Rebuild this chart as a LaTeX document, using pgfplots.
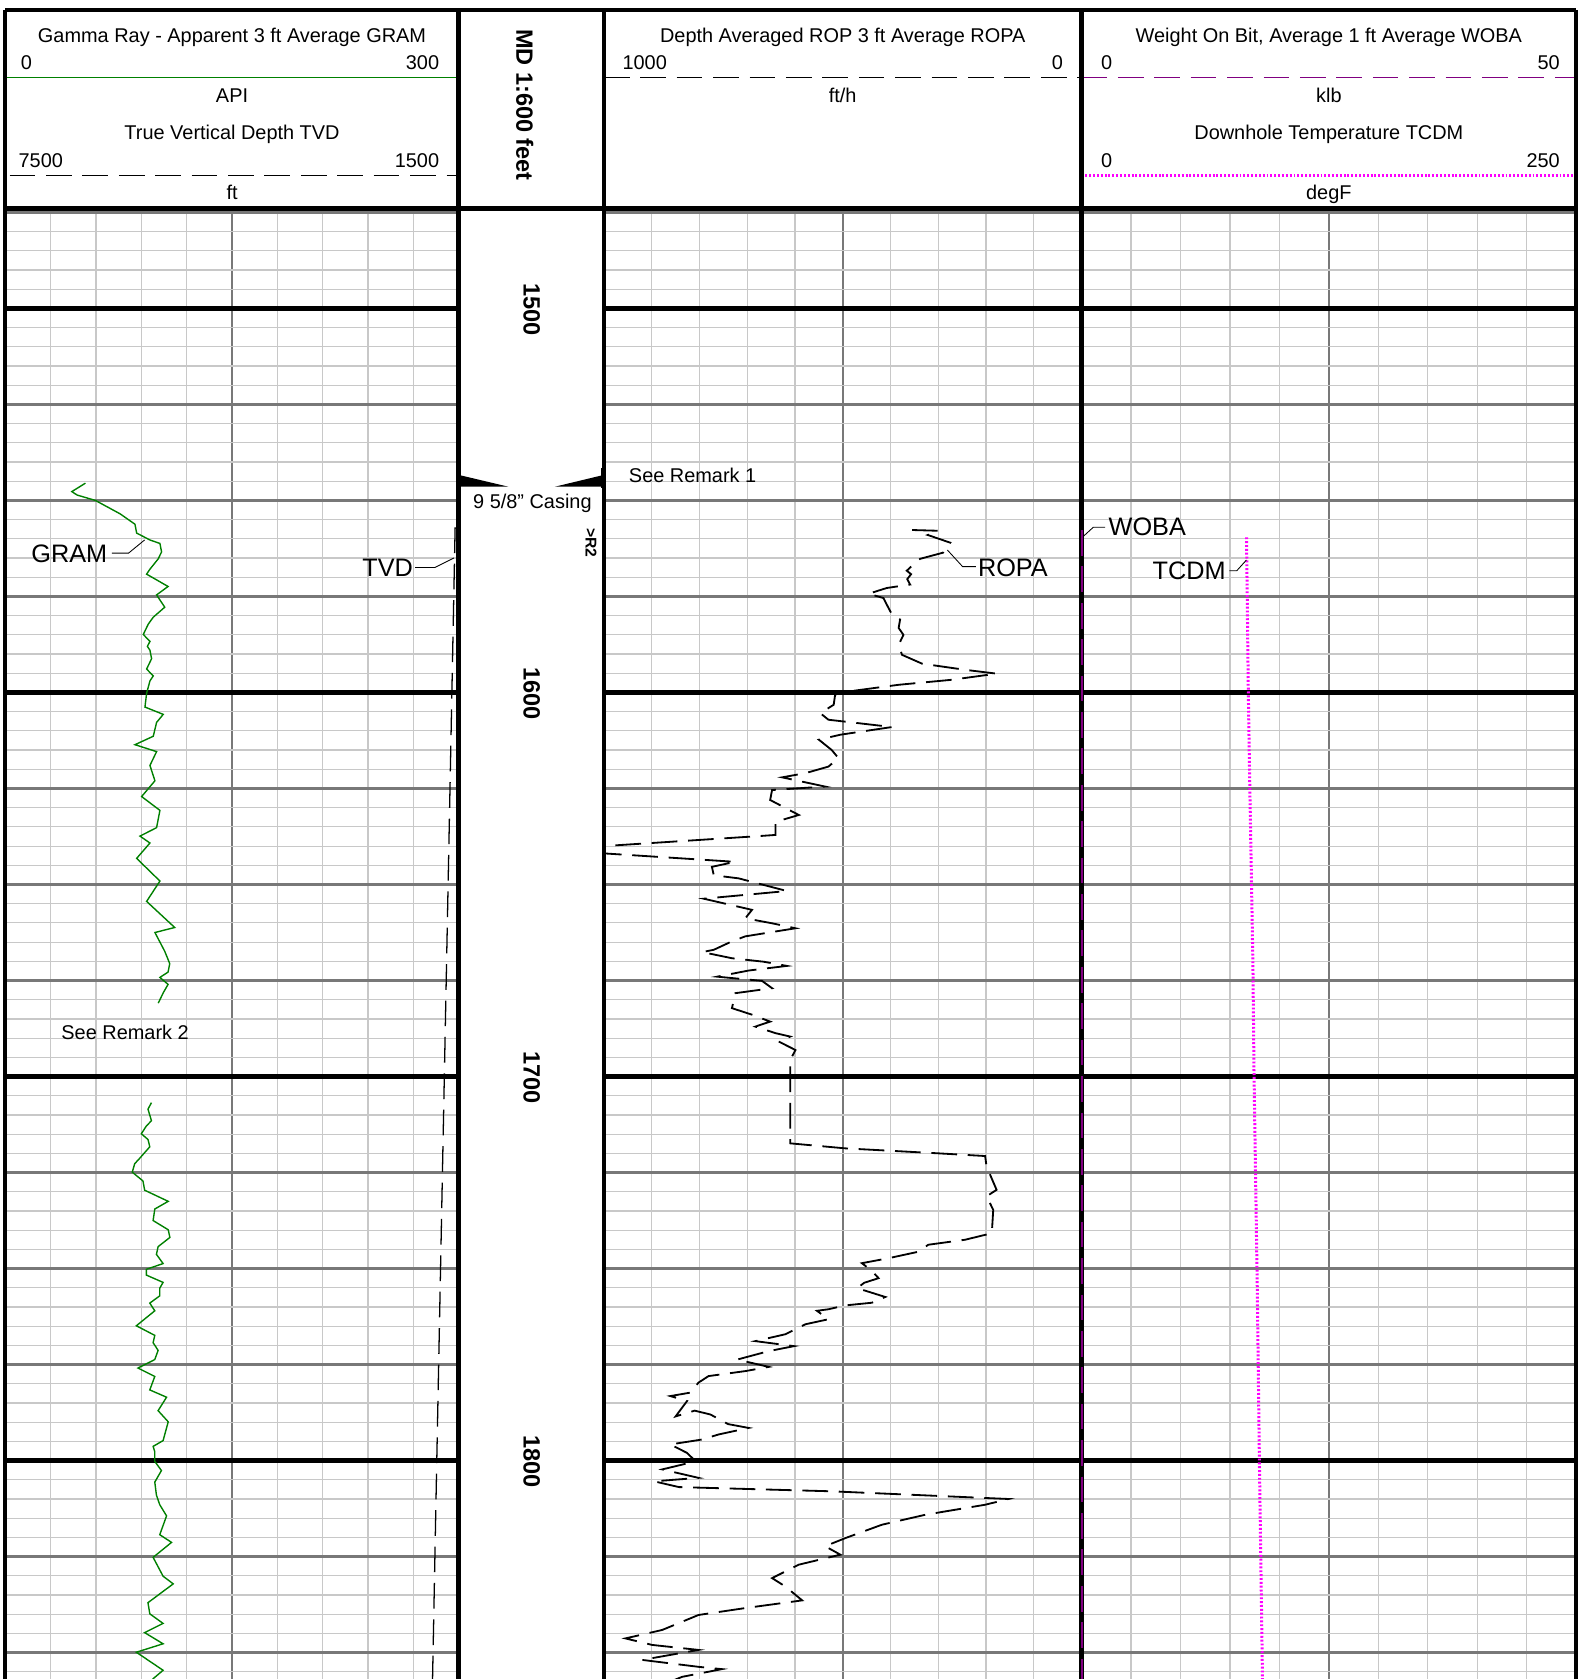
\documentclass[border=0pt]{standalone}
\usepackage{pgfplots}
\pgfplotsset{compat=1.18}
\usepackage{fontspec}
\setmainfont{Liberation Sans}

\definecolor{gramgreen}{RGB}{0,128,0}
\definecolor{wobapurple}{RGB}{128,0,128}
\definecolor{tcdmmagenta}{RGB}{255,0,255}
\definecolor{gridlight}{RGB}{200,200,200}
\definecolor{gridmid}{RGB}{120,120,120}

\newcommand{\hf}{\fontsize{9.3}{11}\selectfont}
\newcommand{\lf}{\fontsize{11.8}{14}\selectfont}
\newcommand{\df}{\fontsize{11}{13}\selectfont\bfseries}

\tikzset{
  logdash/.style={dash pattern=on 12pt off 5pt},
  tempdot/.style={dash pattern=on 0.9pt off 0.9pt},
  leader/.style={draw=black, line width=0.4pt},
}

% one style for every log track: depth down, 5/25/100 ft grid
\pgfplotsset{
  logtrack/.style={
    scale only axis, anchor=north west, height=686pt,
    y dir=reverse, ymin=1474.35, ymax=1856.88,
    xticklabels={}, yticklabels={}, extra y tick labels={},
    major tick length=0pt, minor tick length=0pt,
    ytick={1475,1500,...,1850},
    minor ytick={1475,1480,...,1855},
    extra y ticks={1500,1600,1700,1800},
    extra y tick style={grid=major, major grid style={draw=black, line width=2pt}},
    grid=both,
    minor grid style={draw=gridlight, line width=0.55pt},
    major grid style={draw=gridmid, line width=1.1pt},
    axis line style={draw=none},
  },
  overlay/.style={
    scale only axis, anchor=north west, height=686pt,
    y dir=reverse, ymin=1474.35, ymax=1856.88,
    hide axis,
  },
}

\begin{document}
\begin{tikzpicture}
\path[use as bounding box] (0pt,0pt) rectangle (739.5pt,-784pt);
\clip (0pt,0pt) rectangle (739.5pt,-784pt);

% ---- track 1: GRAM (0-300 API) ----
\begin{axis}[logtrack, at={(2.5pt,-98pt)}, width=211.65pt,
    xmin=0, xmax=300, xtick={150}, minor xtick={30,60,...,270}]
\addplot[gramgreen, line width=0.65pt] coordinates {
(53,1545.5)(44,1547.7)(47.5,1548.6)(59.6,1550.0)(76,1553.5)(85.8,1556.2)
(86.9,1558.5)(95.7,1560.3)(102.3,1561.2)(103.4,1563.4)(101.2,1565.2)
(95.7,1567.9)(93.5,1569.2)(107.7,1572.4)(100.1,1574.6)(105.5,1577.8)
(97.9,1580.4)(94.6,1582.2)(91.3,1584.9)(95.7,1586.7)(94,1588)(95.7,1589.0)
(96.8,1591.2)(93.5,1593.9)(97.9,1595.7)(95.7,1597.0)(93.5,1600.2)
(92.4,1603.8)(104.5,1605.7)(100.1,1607.8)(97.9,1611.4)(85.8,1613.6)
(100.1,1615.4)(95.7,1619.0)(99.0,1623.0)(90.2,1627.1)(102.3,1630.7)
(100.1,1635.2)(89.1,1637.4)(95.7,1639.2)(86.9,1643.2)(102.3,1649.1)
(93.5,1654.4)(112.1,1661.2)(99.0,1662.5)(105.5,1667.4)(108.8,1670.6)
(107.7,1672.8)(102.3,1674.2)(107.7,1676.0)(104.5,1678.2)(101.2,1680.9)
};
\addplot[gramgreen, line width=0.65pt] coordinates {
(96.7,1706.8)(94.4,1708.5)(96.7,1711.5)(93.3,1712.9)(90,1714.9)(94.4,1716.4)
(95.6,1718.3)(88.9,1721.3)(85.6,1722.7)(84,1724.9)(91.1,1727.2)(92.2,1729.6)
(107.8,1732.5)(98.9,1734.5)(97.8,1737.5)(107.8,1739.9)(108.9,1741.9)
(101.1,1744.3)(100,1746.3)(104.4,1748.7)(93.3,1750.2)(93.3,1751.7)
(104.4,1753.6)(102.2,1755.1)(102.2,1757.1)(95.6,1759.0)(98.9,1761.0)
(86.7,1764.9)(98.9,1767.4)(97.8,1769.3)(101.1,1771.3)(98.9,1773.7)
(87.8,1775.9)(98.9,1778.1)(95.6,1781.6)(106.7,1783.5)(101.1,1787.0)
(107.8,1789.9)(104.4,1794.8)(97.8,1796.3)(98.9,1797.7)(98.9,1800.2)
(103.3,1802.6)(98.9,1805.6)(100,1809.0)(102.2,1811.5)(106.7,1814.4)
(102.2,1819.3)(110,1821.3)(97.8,1825.2)(104.4,1830.1)(111.1,1832.1)
(94.4,1837.0)(95.6,1839.9)(104.4,1842.4)(92.2,1844.8)(104.4,1847.7)
(86.7,1849.9)(104.4,1854.6)(97.8,1856.8)(100,1858)
};
\end{axis}

% TVD on the same track, 7500 (left) to 1500 (right)
\begin{axis}[overlay, at={(2.5pt,-98pt)}, width=211.65pt,
    x dir=reverse, xmin=1500, xmax=7500]
\addplot[black, line width=0.6pt, logdash] coordinates {
(1546,1557)(1600,1611)(1700,1711)(1800,1811)(1846,1858)
};
\end{axis}

% ---- track 2: ROPA (1000-0 ft/h) ----
\begin{axis}[logtrack, at={(282pt,-98pt)}, width=223.05pt,
    x dir=reverse, xmin=0, xmax=1000, xtick={500}, minor xtick={100,200,...,900}]
\addplot[black, line width=0.85pt, logdash] coordinates {
(355,1557.7)(300,1557.9)(322,1559.0)(275,1561.0)(290,1563.6)(338,1565.2)
(355,1567.0)(366,1568.3)(357,1569.2)(365,1570.5)(359,1571.9)(408,1572.8)
(446,1574.3)(415,1575.4)(408,1577.1)(397,1579.7)(380,1581.0)(383,1583.2)
(373,1585.0)(383,1587.6)(376,1590.2)(334,1592.5)(244,1594.1)(178,1595.1)
(272,1596.7)(383,1598.0)(504,1600.0)(516,1600.6)(519,1603.2)(547,1605.4)
(530,1607.1)(397,1609.0)(505,1611.0)(550,1612.3)(523,1615.0)(509,1617.1)
(530,1619.3)(578,1621.0)(627,1622.1)(537,1624.5)(648,1625.4)(652,1628.0)
(592,1631.9)(641,1633.7)(641,1637.1)(676,1637.4)(1000,1640.0)(1000,1641.9)
(725,1644.1)(774,1645.4)(770,1647.6)(718,1648.4)(617,1651.7)(791,1653.7)
(732,1655.4)(690,1656.6)(704,1658.8)(648,1660.1)(599,1661.4)(704,1663.5)
(732,1664.8)(770,1667.0)(794,1667.6)(732,1669.2)(666,1670.1)(617,1671.2)
(697,1672.4)(763,1674.0)(669,1675.1)(648,1677.0)(725,1678.3)(732,1682.2)
(690,1683.9)(652,1685.7)(683,1687.0)(641,1688.7)(610,1689.6)(634,1690.9)
(599,1693.1)(610,1695.7)(610,1717.4)(495,1718.7)(300,1720.0)(202,1720.7)
(199,1723.4)(178,1729.5)(199,1731.2)(185,1734.7)(188,1740.8)(244,1742.5)
(321,1743.8)(341,1745.6)(404,1747.3)(460,1748.6)(440,1750.5)(425,1752.5)
(455,1753.7)(470,1755.1)(411,1757.4)(439,1758.9)(495,1759.6)(530,1760.6)
(554,1761.0)(530,1763.2)(578,1764.5)(620,1767.1)(683,1768.9)(602,1770.2)
(655,1771.5)(721,1773.7)(655,1775.6)(704,1776.7)(781,1778.0)(802,1779.7)
(819,1782.3)(861,1783.2)(826,1784.5)(850,1788.5)(810,1787.0)(777,1788.0)
(740,1790.5)(697,1791.5)(760,1793.2)(794,1794.5)(861,1795.8)(826,1798.0)
(808,1800.2)(878,1802.3)(802,1804.5)(895,1805.4)(843,1806.9)(523,1808.0)
(153,1810.0)(202,1811.5)(327,1814.1)(418,1816.7)(495,1820.2)(537,1822.3)
(505,1824.5)(592,1827.1)(648,1830.6)(620,1832.8)(585,1836.4)(704,1838.4)
(802,1840.2)(878,1844.1)(955,1846.3)(899,1848.0)(802,1849.3)(920,1851.9)
(802,1853.7)(753,1854.3)(836,1856.3)(860,1857.5)
};
\end{axis}

% ---- track 3: TCDM (0-250 degF) ----
\begin{axis}[logtrack, at={(505.05pt,-98pt)}, width=230.85pt,
    xmin=0, xmax=250, xtick={125}, minor xtick={25,50,...,225}]
\addplot[tcdmmagenta, line width=1.4pt, tempdot] coordinates {
(83.4,1559.6)(84.3,1600)(85.0,1623)(86.6,1670)(87.2,1700)(88.8,1754)
(89.9,1800)(91.5,1858)
};
\end{axis}

% ---- header, borders and notes (units: reference pixels) ----
\begin{scope}[x=0.5pt, y=-0.5pt, every node/.style={inner sep=0pt, font=\hf}]
% header track 1
\node[anchor=base] at (216.7,39.4) {Gamma Ray - Apparent 3 ft Average GRAM};
\node[anchor=base west] at (19,65.2) {0};
\node[anchor=base east] at (410.5,65.2) {300};
\draw[gramgreen, line width=0.7pt] (5,72.5) -- (428.3,72.5);
\node[anchor=base] at (216.7,95.4) {API};
\node[anchor=base] at (216.7,130.6) {True Vertical Depth TVD};
\node[anchor=base west] at (17,156.7) {7500};
\node[anchor=base east] at (410.5,156.7) {1500};
\draw[black, line width=0.75pt, logdash] (9,164) -- (426,164);
\node[anchor=base] at (216.7,186.7) {ft};
% header track 2
\node[anchor=base] at (787,39.4) {Depth Averaged ROP 3 ft Average ROPA};
\node[anchor=base west] at (581,65.2) {1000};
\node[anchor=base east] at (993,65.2) {0};
\draw[black, line width=0.75pt, logdash] (564,72.5) -- (1010,72.5);
\node[anchor=base] at (787,95.4) {ft/h};
% header track 3
\node[anchor=base] at (1241,39.4) {Weight On Bit, Average 1 ft Average WOBA};
\node[anchor=base west] at (1028,65.2) {0};
\node[anchor=base east] at (1457,65.2) {50};
\draw[wobapurple, line width=0.75pt, logdash] (1010,72.5) -- (1472,72.5);
\node[anchor=base] at (1241,95.4) {klb};
\node[anchor=base] at (1241,130.6) {Downhole Temperature TCDM};
\node[anchor=base west] at (1028,156.7) {0};
\node[anchor=base east] at (1457,156.7) {250};
\draw[tcdmmagenta, line width=1.4pt, tempdot] (1010,164) -- (1472,164);
\node[anchor=base] at (1241,186.7) {degF};
% depth track
\node[rotate=-90, font=\df] at (490,98) {MD 1:600 feet};
\node[rotate=-90, font=\df] at (496.5,289) {1500};
\node[rotate=-90, font=\df] at (496.5,647.7) {1600};
\node[rotate=-90, font=\df] at (496.5,1006.3) {1700};
\node[rotate=-90, font=\df] at (496.5,1365) {1800};
% casing shoe
\fill[black] (428.3,443.5) -- (474.7,454.5) -- (428.3,454.5) -- cycle;
\fill[black] (425.8,437.3) rectangle (430.6,456);
\fill[black] (564,443.5) -- (518.3,454.5) -- (564,454.5) -- cycle;
\fill[black] (561.6,437.3) rectangle (566.2,456);
\node[anchor=base] at (497.2,474.5) {9 5/8\symbol{34} Casing};
\node[rotate=-90, font=\fontsize{7.3}{9}\selectfont\bfseries] at (552,506.7) {>R2};
\node[anchor=base west] at (587,450.7) {See Remark 1};
\node[anchor=base west] at (57,970.7) {See Remark 2};
% borders
\draw[black, line width=2.2pt] (5,9.3) -- (1471.8,9.3);
\draw[black, line width=2.2pt] (5,194.5) -- (1471.8,194.5);
\foreach \bx in {5,428.3,564,1010.1,1471.8}
  \draw[black, line width=2pt] (\bx,9.3) -- (\bx,1575);
% curve labels
\node[anchor=base west, font=\lf] at (29,525) {GRAM};
\draw[leader] (104.5,516.6) -- (120,516.6) -- (135,504.3);
\node[anchor=base east, font=\lf] at (386,538.5) {TVD};
\draw[leader] (387.6,530) -- (406,530) -- (424,521);
\node[anchor=base west, font=\lf] at (913,538.5) {ROPA};
\draw[leader] (884.7,513.6) -- (899,529.2) -- (911.4,529.2);
\node[anchor=base west, font=\lf] at (1035,500.3) {WOBA};
\draw[leader] (1011.6,501) -- (1021,492.4) -- (1032,492.4);
\node[anchor=base east, font=\lf] at (1145,541) {TCDM};
\draw[leader] (1148,533) -- (1155,533) -- (1164,523);
\end{scope}

% WOBA sits on the track border, so it is drawn last
\begin{axis}[overlay, at={(505.05pt,-98pt)}, width=230.85pt,
    xmin=0, xmax=50, clip=false]
\addplot[wobapurple, line width=0.9pt, logdash] coordinates {
(0,1557.7)(0,1700)(0,1856.8)
};
\end{axis}
\end{tikzpicture}
\end{document}
